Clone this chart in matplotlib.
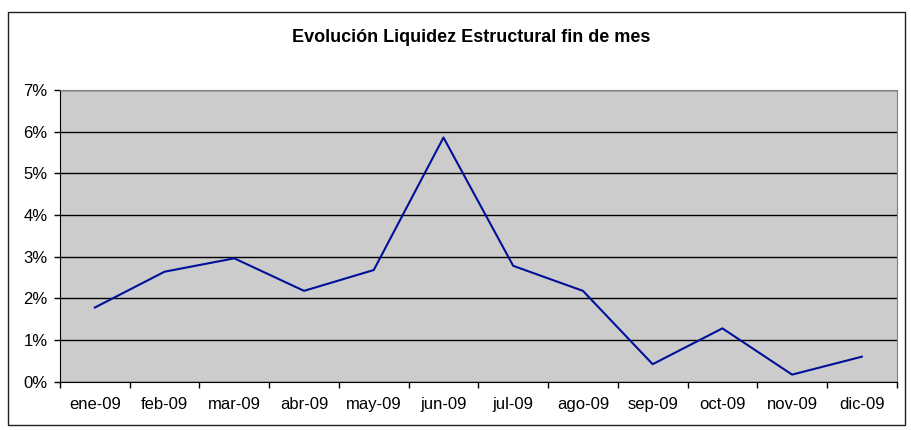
import matplotlib
matplotlib.use("Agg")
import matplotlib.pyplot as plt
from matplotlib.patches import Rectangle
from matplotlib.ticker import FuncFormatter

plt.rcParams['font.family'] = ['Liberation Sans', 'DejaVu Sans']

meses = ['ene-09', 'feb-09', 'mar-09', 'abr-09', 'may-09', 'jun-09',
         'jul-09', 'ago-09', 'sep-09', 'oct-09', 'nov-09', 'dic-09']
liquidez = [1.78, 2.64, 2.96, 2.18, 2.68, 5.86, 2.78, 2.18, 0.42, 1.28, 0.17, 0.60]

fig = plt.figure(figsize=(9.11, 4.30), dpi=100)
# outer frame
fig.patches.append(Rectangle((7.5 / 911, 5 / 430), 897 / 911, 413 / 430, transform=fig.transFigure,
                             fill=False, edgecolor='#202020', linewidth=1.0))

ax = fig.add_axes([60 / 911, 48.3 / 430, 836.7 / 911, 291.7 / 430])
ax.set_facecolor('#cccccc')

x = list(range(len(meses)))
ax.plot(x, liquidez, color='#00109a', linewidth=1.5, zorder=3)

ax.set_xlim(-0.5, len(meses) - 0.5)
ax.set_ylim(0, 7)
ax.set_yticks(range(0, 8))
ax.yaxis.set_major_formatter(FuncFormatter(lambda v, p: f'{int(v)}%'))
ax.yaxis.grid(True, color='black', linewidth=1.0)
ax.set_axisbelow(True)

ax.set_xticks(x)
ax.set_xticklabels(meses)
ax.set_xticks([i - 0.5 for i in range(len(meses) + 1)], minor=True)
ax.tick_params(axis='x', which='major', length=0, pad=11, labelsize=12)
ax.tick_params(axis='x', which='minor', length=4, width=1, direction='out')
ax.tick_params(axis='y', length=4, width=1, direction='out', labelsize=12, pad=5)

for s in ['top', 'right']:
    ax.spines[s].set_color('#808080')
for s in ['left', 'bottom']:
    ax.spines[s].set_color('black')

fig.text(471 / 911, 1 - 37 / 430, 'Evolución Liquidez Estructural fin de mes',
         ha='center', va='center', fontsize=13, fontweight='bold')

fig.savefig('out.png', dpi=100)
